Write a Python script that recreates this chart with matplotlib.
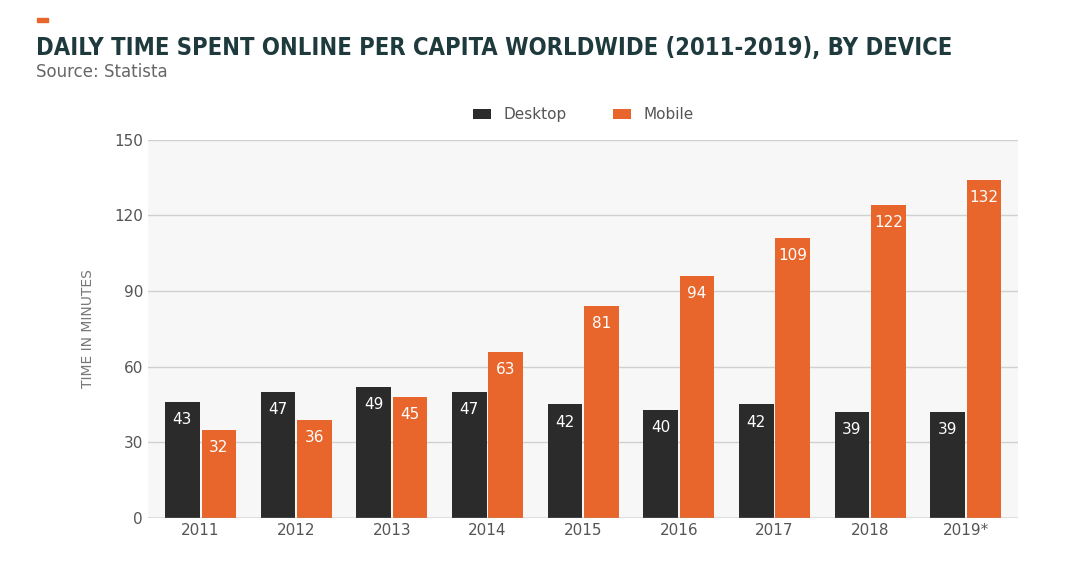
import matplotlib.pyplot as plt
import numpy as np

years = ["2011", "2012", "2013", "2014", "2015", "2016", "2017", "2018", "2019*"]
desktop_labels = [43, 47, 49, 47, 42, 40, 42, 39, 39]
mobile_labels = [32, 36, 45, 63, 81, 94, 109, 122, 132]
# bar heights as drawn in the source graphic (slightly above the printed values)
desktop_bars = [46, 50, 52, 50, 45, 43, 45, 42, 42]
mobile_bars = [35, 39, 48, 66, 84, 96, 111, 124, 134]

dark = "#2b2b2b"
orange = "#e8662c"

fig = plt.figure(figsize=(10.8, 5.66), dpi=100)
ax = fig.add_axes([0.137, 0.085, 0.806, 0.668])

x = np.arange(len(years))
w = 0.36
b1 = ax.bar(x - w / 2 - 0.01, desktop_bars, w, color=dark, label="Desktop", zorder=3)
b2 = ax.bar(x + w / 2 + 0.01, mobile_bars, w, color=orange, label="Mobile", zorder=3)

for bars, labs in ((b1, desktop_labels), (b2, mobile_labels)):
    for r, v in zip(bars, labs):
        ax.text(r.get_x() + r.get_width() / 2, r.get_height() - 4, str(v),
                ha="center", va="top", color="white", fontsize=11)

ax.set_ylim(0, 150)
ax.set_xlim(-0.55, len(years) - 0.45)
ax.set_yticks([0, 30, 60, 90, 120, 150])
ax.set_xticks(x)
ax.set_xticklabels(years)
ax.tick_params(length=0, labelsize=11, colors="#555555")
ax.grid(axis="y", color="#d0d0d0", lw=1, zorder=0)
ax.set_facecolor("#f7f7f7")
for s in ax.spines.values():
    s.set_visible(False)
ax.axhline(0, color="#999999", lw=1, zorder=4)
ax.set_ylabel("TIME IN MINUTES", fontsize=10, color="#777777", labelpad=14)

ax.legend(loc="lower center", bbox_to_anchor=(0.5, 1.01), ncol=2, frameon=False,
          fontsize=11, handlelength=1.2, handleheight=0.7, columnspacing=3,
          labelcolor="#555555")

fig.patches.append(plt.Rectangle((0.034, 0.962), 0.01, 0.006, color=orange,
                                 transform=fig.transFigure))
fig.text(0.033, 0.915, "DAILY TIME SPENT ONLINE PER CAPITA WORLDWIDE (2011-2019), BY DEVICE",
         fontsize=17, fontweight="bold", color="#1f3a3d", va="center",
         fontstretch="condensed", family="Liberation Sans Narrow")
fig.text(0.033, 0.872, "Source: Statista", fontsize=12, color="#666666", va="center")

fig.savefig("out.png", dpi=100)
